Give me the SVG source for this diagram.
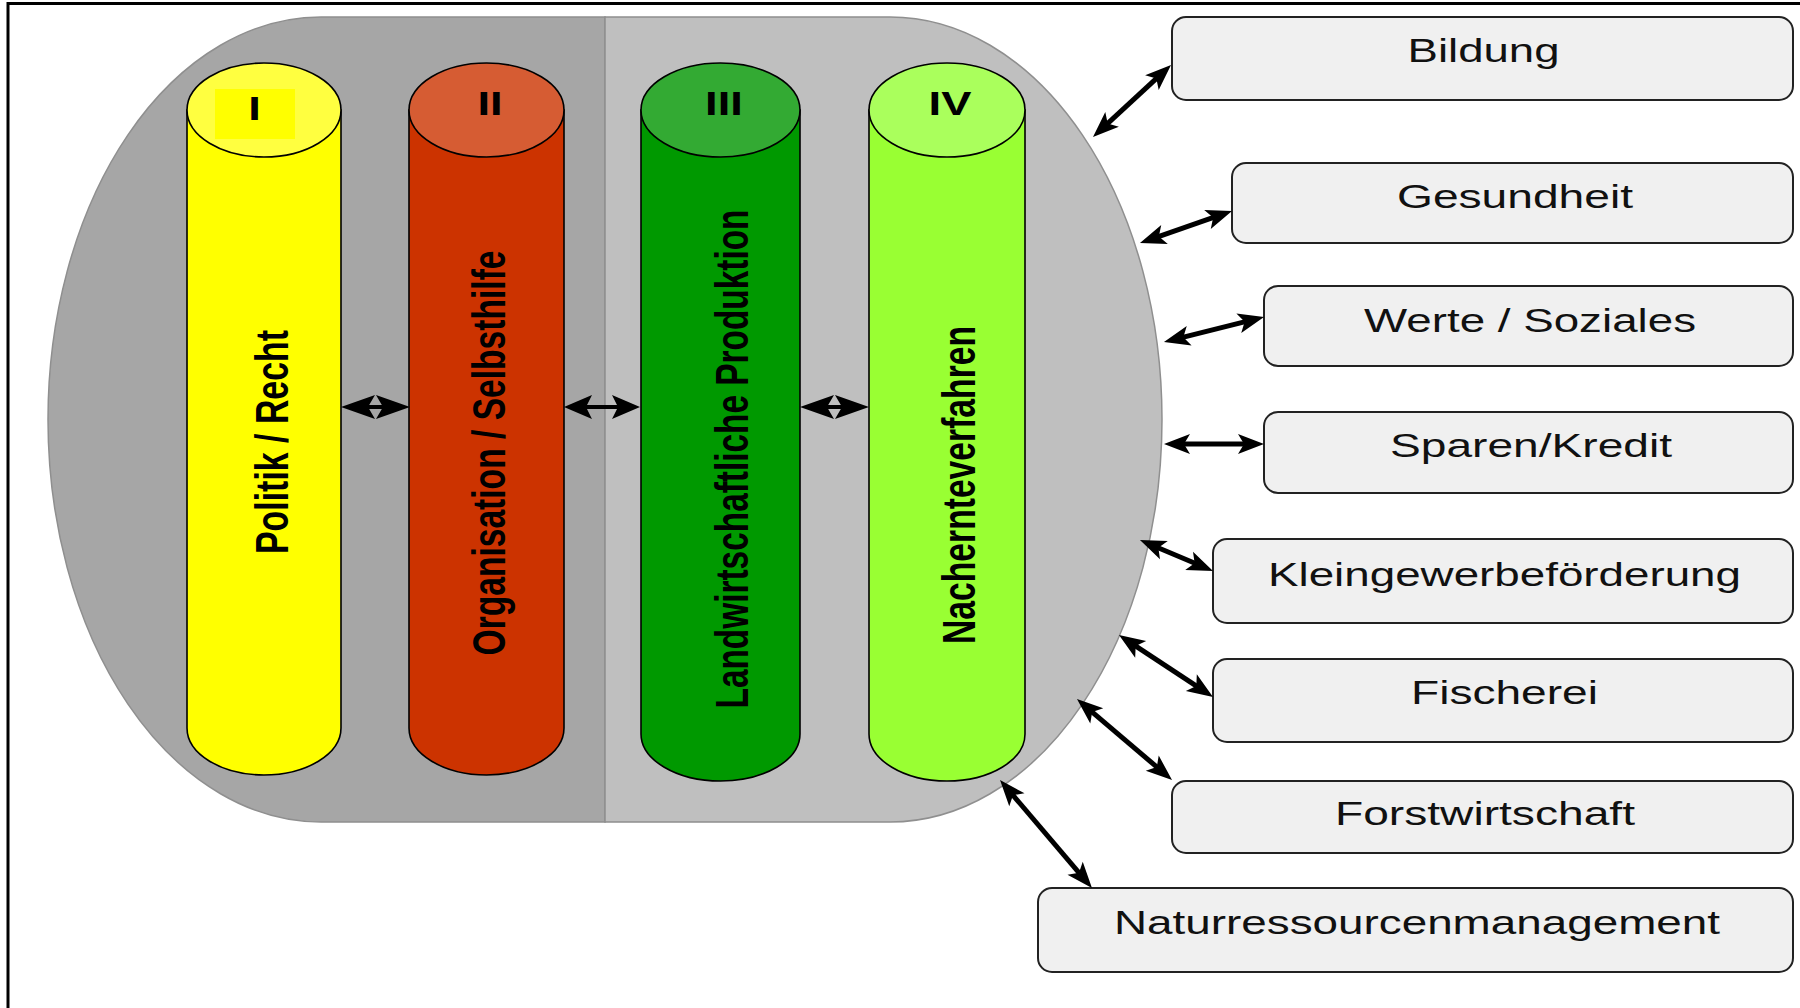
<svg xmlns="http://www.w3.org/2000/svg" width="1800" height="1008" viewBox="0 0 1800 1008">
<style>
.frame{fill:none;stroke:#000;stroke-width:3}
.shape{stroke:#8f8f8f;stroke-width:1.5}
.cyl{stroke:#000;stroke-width:1.6}
.num{font-family:"Liberation Sans",Arial,sans-serif;font-weight:bold;font-size:34px;fill:#000;text-anchor:middle}
.lbl{font-family:"Liberation Sans",Arial,sans-serif;font-weight:bold;font-size:34px;fill:#000;text-anchor:middle}
.box{fill:#f0f0f0;stroke:#222;stroke-width:2}
.btxt{font-family:"Liberation Sans",Arial,sans-serif;font-size:34px;fill:#111;text-anchor:middle}
.arr{stroke:#000;stroke-width:5;fill:none;marker-start:url(#ah);marker-end:url(#ah)}
.carr{stroke:#000;stroke-width:4;fill:none}
</style>
<defs>
<marker id="ah" markerUnits="userSpaceOnUse" viewBox="-16 -12 30 24" refX="0" refY="0" markerWidth="30" markerHeight="24" orient="auto-start-reverse">
<path d="M12,0 L-14,-10 L-8,0 L-14,10 Z" fill="#000"/>
</marker>
<marker id="ahc" markerUnits="userSpaceOnUse" viewBox="-24 -14 38 28" refX="0" refY="0" markerWidth="38" markerHeight="28" orient="auto-start-reverse">
<path d="M12,0 L-22,-12 L-15,0 L-22,12 Z" fill="#000"/>
</marker>
<marker id="ahm" markerUnits="userSpaceOnUse" viewBox="-20 -14 34 28" refX="0" refY="0" markerWidth="34" markerHeight="28" orient="auto-start-reverse">
<path d="M12,0 L-16,-12 L-10,0 L-16,12 Z" fill="#000"/>
</marker>
</defs>

<path class="frame" d="M8,1008 V3.5 H1800"/>

<g id="container">
<path class="shape" fill="#a6a6a6" d="M605,17 L321,17 A273,402.5 0 0 0 321,822 L605,822 Z"/>
<path class="shape" fill="#bfbfbf" d="M605,17 L890,17 A272,402.5 0 0 1 890,822 L605,822 Z"/>
</g>

<g id="pillar-1">
<path class="cyl" fill="#ffff00" d="M187,110 L187,728 A77,47 0 0 0 341,728 L341,110 Z"/>
<ellipse class="cyl" fill="#ffff40" cx="264" cy="110" rx="77" ry="47"/>
<rect x="215" y="89" width="80" height="50" fill="#ffff00"/>
<text class="num" transform="translate(254.5,120) scale(1.333,1)">I</text>
<text class="lbl" transform="translate(288,442) scale(1.333,1) rotate(-90)" textLength="224" lengthAdjust="spacingAndGlyphs">Politik / Recht</text>
</g>

<g id="pillar-2">
<path class="cyl" fill="#cc3300" d="M409,110 L409,728 A77.5,47 0 0 0 564,728 L564,110 Z"/>
<ellipse class="cyl" fill="#d65c33" cx="486.5" cy="110" rx="77.5" ry="47"/>
<text class="num" transform="translate(490,115) scale(1.333,1)">II</text>
<text class="lbl" transform="translate(505,453) scale(1.333,1) rotate(-90)" textLength="405" lengthAdjust="spacingAndGlyphs">Organisation / Selbsthilfe</text>
</g>

<g id="pillar-3">
<path class="cyl" fill="#009900" d="M641,110 L641,734 A79.5,47 0 0 0 800,734 L800,110 Z"/>
<ellipse class="cyl" fill="#33aa33" cx="720.5" cy="110" rx="79.5" ry="47"/>
<text class="num" transform="translate(724,115) scale(1.333,1)">III</text>
<text class="lbl" transform="translate(748,459) scale(1.333,1) rotate(-90)" textLength="499" lengthAdjust="spacingAndGlyphs">Landwirtschaftliche Produktion</text>
</g>

<g id="pillar-4">
<path class="cyl" fill="#99ff33" d="M869,110 L869,734 A78,47 0 0 0 1025,734 L1025,110 Z"/>
<ellipse class="cyl" fill="#aaff5c" cx="947" cy="110" rx="78" ry="47"/>
<text class="num" transform="translate(950,115) scale(1.333,1)">IV</text>
<text class="lbl" transform="translate(975,485) scale(1.333,1) rotate(-90)" textLength="318" lengthAdjust="spacingAndGlyphs">Nachernteverfahren</text>
</g>

<g id="box-bildung">
<rect class="box" x="1172" y="17" width="621" height="83" rx="14"/>
<text class="btxt" x="1483.5" y="62" textLength="152" lengthAdjust="spacingAndGlyphs">Bildung</text>
</g>
<g id="box-gesundheit">
<rect class="box" x="1232" y="163" width="561" height="80" rx="14"/>
<text class="btxt" x="1515" y="208" textLength="236" lengthAdjust="spacingAndGlyphs">Gesundheit</text>
</g>
<g id="box-werte">
<rect class="box" x="1264" y="286" width="529" height="80" rx="14"/>
<text class="btxt" x="1530" y="332" textLength="332" lengthAdjust="spacingAndGlyphs">Werte / Soziales</text>
</g>
<g id="box-sparen">
<rect class="box" x="1264" y="412" width="529" height="81" rx="14"/>
<text class="btxt" x="1531" y="457" textLength="282" lengthAdjust="spacingAndGlyphs">Sparen/Kredit</text>
</g>
<g id="box-kleingewerbe">
<rect class="box" x="1213" y="539" width="580" height="84" rx="14"/>
<text class="btxt" x="1504.5" y="586" textLength="473" lengthAdjust="spacingAndGlyphs">Kleingewerbeförderung</text>
</g>
<g id="box-fischerei">
<rect class="box" x="1213" y="659" width="580" height="83" rx="14"/>
<text class="btxt" x="1504.5" y="704" textLength="187" lengthAdjust="spacingAndGlyphs">Fischerei</text>
</g>
<g id="box-forst">
<rect class="box" x="1172" y="781" width="621" height="72" rx="14"/>
<text class="btxt" x="1485" y="825" textLength="300" lengthAdjust="spacingAndGlyphs">Forstwirtschaft</text>
</g>
<g id="box-natur">
<rect class="box" x="1038" y="888" width="755" height="84" rx="14"/>
<text class="btxt" x="1417" y="934" textLength="606" lengthAdjust="spacingAndGlyphs">Naturressourcenmanagement</text>
</g>

<g id="connectors">
<line class="carr" x1="353" y1="407" x2="398" y2="407" marker-start="url(#ahc)" marker-end="url(#ahc)"/>
<line class="carr" x1="576" y1="407" x2="628" y2="407" marker-start="url(#ahm)" marker-end="url(#ahm)"/>
<line class="carr" x1="812" y1="407" x2="857" y2="407" marker-start="url(#ahc)" marker-end="url(#ahc)"/>
<line class="arr" x1="1101.8" y1="128.9" x2="1162.2" y2="73.1"/>
<line class="arr" x1="1151.3" y1="239.1" x2="1220.7" y2="214.9"/>
<line class="arr" x1="1175.6" y1="339.1" x2="1252.4" y2="319.9"/>
<line class="arr" x1="1176" y1="444" x2="1252" y2="444"/>
<line class="arr" x1="1151.0" y1="544.7" x2="1202.0" y2="566.3"/>
<line class="arr" x1="1129.0" y1="641.6" x2="1203.0" y2="690.4"/>
<line class="arr" x1="1086.1" y1="706.8" x2="1162.9" y2="772.2"/>
<line class="arr" x1="1007.8" y1="789.1" x2="1084.2" y2="878.9"/>
</g>
</svg>
